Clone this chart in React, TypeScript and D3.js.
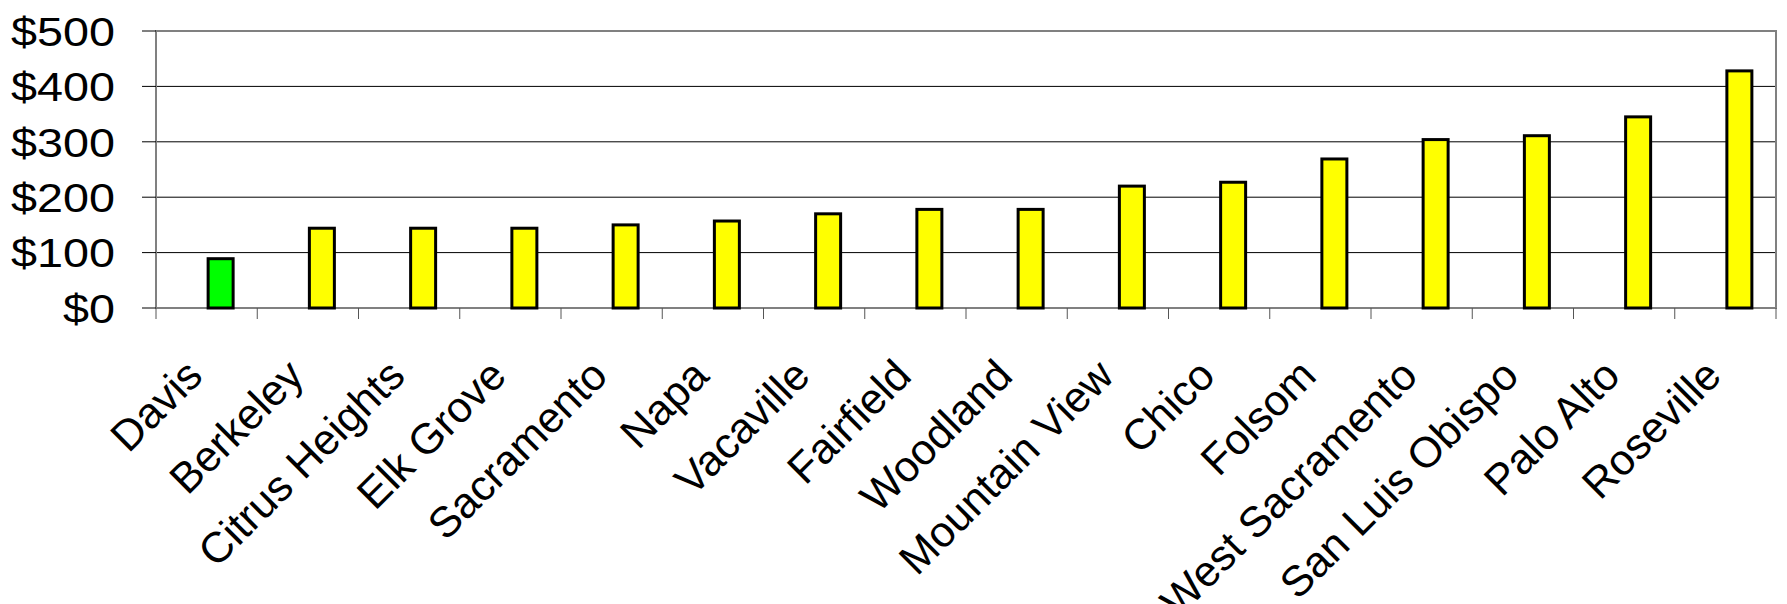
import React from "react";
import * as d3 from "d3";

const categories = [
  "Davis", "Berkeley", "Citrus Heights", "Elk Grove", "Sacramento", "Napa",
  "Vacaville", "Fairfield", "Woodland", "Mountain View", "Chico", "Folsom",
  "West Sacramento", "San Luis Obispo", "Palo Alto", "Roseville",
];
const values = [89, 144, 144, 144, 150, 157, 170, 178, 178, 220, 227, 269, 304, 311, 345, 428];
const highlighted = ["Davis"];
const yTickValues = [0, 100, 200, 300, 400, 500];

const W = 1787;
const H = 604;
const L = 156, R = 1776, T = 31, B = 308;
const SX = 1.14;
const FONT = "'Liberation Sans', Arial, sans-serif";

export default function App() {
  const x = d3.scaleBand<string>().domain(categories).range([L, R]).padding(0);
  const y = d3.scaleLinear().domain([0, 500]).range([B, T]);
  const bw = x.bandwidth();
  const barW = 25;
  const fmt = (v: number) => "$" + d3.format("d")(v);
  const boundaries = categories.map((c) => x(c)!).concat([R]);

  return (
    <svg width={W} height={H} style={{ position: "absolute", left: 0, top: 0, background: "#fff" }}>
      {yTickValues.filter((v) => v > 0 && v < 500).map((v) => (
        <line key={"g" + v} x1={L} x2={R} y1={y(v)} y2={y(v)} stroke="#000" strokeWidth={1} />
      ))}
      <rect x={L} y={T} width={R - L} height={B - T} fill="none" stroke="#808080" strokeWidth={2} />
      {yTickValues.map((v) => (
        <g key={"yt" + v}>
          <line x1={L - 14} x2={L} y1={y(v)} y2={y(v)} stroke="#000" strokeWidth={1} />
          <text
            transform={`translate(115,${y(v)}) scale(${SX},1)`}
            dy="0.36em"
            textAnchor="end"
            fontFamily={FONT}
            fontSize={41}
            fill="#000"
          >
            {fmt(v)}
          </text>
        </g>
      ))}
      {boundaries.map((bx, i) => (
        <line key={"xt" + i} x1={bx} x2={bx} y1={B} y2={B + 11} stroke="#555" strokeWidth={1} />
      ))}
      {categories.map((c, i) => (
        <rect
          key={c}
          x={x(c)! + bw / 2 + 1.5}
          y={y(values[i])}
          width={barW}
          height={B - y(values[i])}
          fill={highlighted.includes(c) ? "#00FF00" : "#FFFF00"}
          stroke="#000"
          strokeWidth={3}
        />
      ))}
      {categories.map((c) => {
        const px = x(c)! + bw / 2 - 2;
        const py = 378;
        return (
          <text
            key={"l" + c}
            transform={`translate(${px},${py}) rotate(-45)`}
            textAnchor="end"
            fontFamily={FONT}
            fontSize={43}
            fill="#000"
          >
            {c}
          </text>
        );
      })}
    </svg>
  );
}
